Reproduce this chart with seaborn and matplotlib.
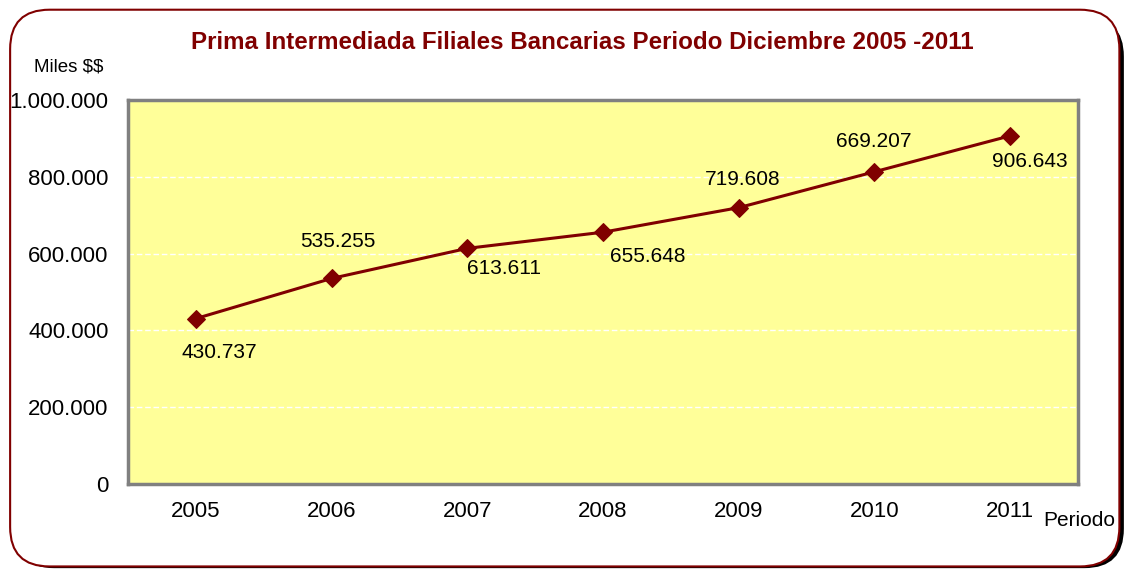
import matplotlib
matplotlib.use("Agg")
import matplotlib.pyplot as plt
import seaborn as sns
import pandas as pd
import numpy as np
from matplotlib.patches import FancyBboxPatch

# Data
years = ["2005", "2006", "2007", "2008", "2009", "2010", "2011"]
values = [430737, 535255, 613611, 655648, 719608, 813000, 906643]
value_labels = ["430.737", "535.255", "613.611", "655.648", "719.608", "669.207", "906.643"]
y_ticks = [0, 200000, 400000, 600000, 800000, 1000000]
y_tick_labels = ["0", "200.000", "400.000", "600.000", "800.000", "1.000.000"]

df = pd.DataFrame({"year": years, "value": values})

sns.set_style("white")
plt.rcParams["font.family"] = ["Liberation Sans", "DejaVu Sans"]

DARK_RED = "#800000"

fig = plt.figure(figsize=(11.25, 5.71), dpi=100)

# rounded outer frame with a little shadow
shadow = FancyBboxPatch((0.013, 0.005), 0.986, 0.965, boxstyle="round,pad=0,rounding_size=0.035",
                        transform=fig.transFigure, facecolor="black", edgecolor="none",
                        mutation_aspect=1125 / 571, zorder=0)
frame = FancyBboxPatch((0.009, 0.008), 0.986, 0.975, boxstyle="round,pad=0,rounding_size=0.035",
                       transform=fig.transFigure, facecolor="white", edgecolor=DARK_RED,
                       linewidth=1.5, mutation_aspect=1125 / 571, zorder=1)
fig.patches.extend([shadow, frame])

ax = fig.add_axes([0.1138, 0.1524, 0.8444, 0.6725])
ax.set_zorder(2)
ax.set_facecolor("#FFFF99")

sns.lineplot(data=df, x="year", y="value", ax=ax, color=DARK_RED, linewidth=2.2,
             marker="D", markersize=9, markeredgecolor=DARK_RED, sort=False)

# value labels (offsets in pixels)
label_offsets = [(23, -34), (6, 37), (37, -20), (45, -24), (4, 28), (-1, 30), (20, -26)]
for i, (lab, off) in enumerate(zip(value_labels, label_offsets)):
    ax.annotate(lab, (i, values[i]), xytext=off, textcoords="offset pixels",
                ha="center", va="center", fontsize=15, color="black")

ax.set_xlim(-0.5, len(years) - 0.5)
ax.set_ylim(0, 1000000)
ax.set_yticks(y_ticks)
ax.set_yticklabels(y_tick_labels, fontsize=16, color="black")
ax.set_xticks(range(len(years)))
ax.set_xticklabels(years, fontsize=16, color="black")
ax.set_xticks(np.arange(-0.5, len(years), 1.0), minor=True)
ax.tick_params(axis="x", which="major", length=0, pad=12)
ax.tick_params(axis="x", which="minor", length=6, width=1, color="black", direction="out")
ax.tick_params(axis="y", which="major", length=6, width=1, color="black", direction="out", pad=8)
ax.set_xlabel("")
ax.set_ylabel("")

ax.yaxis.grid(True, color="white", linestyle=(0, (4, 2)), linewidth=1)
ax.set_axisbelow(True)
for s in ax.spines.values():
    s.set_color("#808080")
    s.set_linewidth(2.5)

fig.text(0.518, 0.925, "Prima Intermediada Filiales Bancarias Periodo Diciembre 2005 -2011",
         ha="center", va="center", fontsize=17.4, fontweight="bold", color=DARK_RED, zorder=3)
fig.text(0.061, 0.882, r"Miles \$\$", ha="center", va="center", fontsize=13.5, color="black", zorder=3)
fig.text(0.927, 0.088, "Periodo", ha="left", va="center", fontsize=15, color="black", zorder=3)

fig.savefig("out.png", dpi=100)
